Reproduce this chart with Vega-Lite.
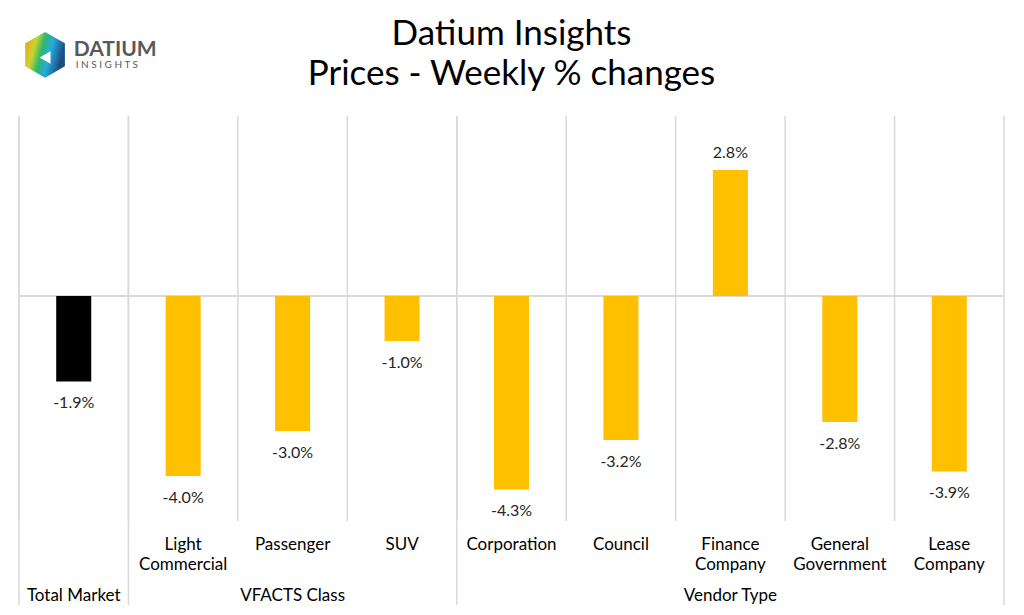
{
  "$schema": "https://vega.github.io/schema/vega-lite/v6.json",
  "autosize": {"type": "none"},
  "width": 985,
  "height": 489,
  "padding": {"left": 19, "top": 116, "right": 20, "bottom": 10},
  "background": "white",
  "title": {
    "text": ["Datium Insights", "Prices - Weekly % changes"],
    "anchor": "middle",
    "font": "Lato",
    "fontSize": 35,
    "fontWeight": "normal",
    "color": "#000000",
    "lineHeight": 40,
    "offset": 28,
    "dy": 88
  },
  "config": {"view": {"stroke": null}},
  "datasets": {
    "main": [
      {"category": "Total Market", "group": "Total Market", "value": -1.9},
      {"category": "Light Commercial", "group": "VFACTS Class", "value": -4.0},
      {"category": "Passenger", "group": "VFACTS Class", "value": -3.0},
      {"category": "SUV", "group": "VFACTS Class", "value": -1.0},
      {"category": "Corporation", "group": "Vendor Type", "value": -4.3},
      {"category": "Council", "group": "Vendor Type", "value": -3.2},
      {"category": "Finance Company", "group": "Vendor Type", "value": 2.8},
      {"category": "General Government", "group": "Vendor Type", "value": -2.8},
      {"category": "Lease Company", "group": "Vendor Type", "value": -3.9}
    ],
    "groups": [
      {"group": "Total Market", "first": "Total Market", "middle": "Total Market"},
      {"group": "VFACTS Class", "first": "Light Commercial", "middle": "Passenger"},
      {"group": "Vendor Type", "first": "Corporation", "middle": "Finance Company"}
    ]
  },
  "layer": [
    {
      "data": {"name": "main"},
      "mark": {"type": "rule", "color": "#D9D9D9", "strokeWidth": 1.5},
      "encoding": {
        "x": {"field": "category", "type": "nominal", "sort": null, "bandPosition": 0,
              "scale": {"paddingInner": 0, "paddingOuter": 0}, "axis": null},
        "y": {"datum": 4, "type": "quantitative", "scale": {"domain": [-6.867, 4], "nice": false, "zero": false}, "axis": null},
        "y2": {"datum": -5}
      }
    },
    {
      "data": {"name": "groups"},
      "mark": {"type": "rule", "color": "#D9D9D9", "strokeWidth": 1.5},
      "encoding": {
        "x": {"field": "first", "type": "nominal", "sort": null, "bandPosition": 0, "axis": null},
        "y": {"datum": 4, "type": "quantitative", "axis": null},
        "y2": {"datum": -6.867}
      }
    },
    {
      "data": {"values": [{"edge": "Lease Company"}]},
      "mark": {"type": "rule", "color": "#D9D9D9", "strokeWidth": 1.5},
      "encoding": {
        "x": {"field": "edge", "type": "nominal", "sort": null, "bandPosition": 1, "axis": null},
        "y": {"datum": 4, "type": "quantitative", "axis": null},
        "y2": {"datum": -6.867}
      }
    },
    {
      "data": {"name": "main"},
      "mark": {"type": "rule", "color": "#D9D9D9", "strokeWidth": 1.5},
      "encoding": {
        "y": {"datum": 0, "type": "quantitative", "axis": null}
      }
    },
    {
      "data": {"name": "main"},
      "mark": {"type": "bar", "width": {"band": 0.32}},
      "encoding": {
        "x": {"field": "category", "type": "nominal", "sort": null, "axis": null},
        "y": {"field": "value", "type": "quantitative", "axis": null},
        "color": {"field": "group", "type": "nominal", "legend": null,
                  "scale": {"domain": ["Total Market", "VFACTS Class", "Vendor Type"], "range": ["#000000", "#FFC000", "#FFC000"]}}
      }
    },
    {
      "data": {"name": "main"},
      "transform": [
        {"filter": "datum.value < 0"},
        {"calculate": "replace(format(datum.value, '.1f'), '\u2212', '-') + '%'", "as": "lbl"}
      ],
      "mark": {"type": "text", "font": "Lato", "fontSize": 16, "color": "#262626", "baseline": "top", "dy": 14},
      "encoding": {
        "x": {"field": "category", "type": "nominal", "sort": null, "axis": null},
        "y": {"field": "value", "type": "quantitative", "axis": null},
        "text": {"field": "lbl"}
      }
    },
    {
      "data": {"name": "main"},
      "transform": [
        {"filter": "datum.value >= 0"},
        {"calculate": "format(datum.value, '.1f') + '%'", "as": "lbl"}
      ],
      "mark": {"type": "text", "font": "Lato", "fontSize": 16, "color": "#262626", "baseline": "bottom", "dy": -9},
      "encoding": {
        "x": {"field": "category", "type": "nominal", "sort": null, "axis": null},
        "y": {"field": "value", "type": "quantitative", "axis": null},
        "text": {"field": "lbl"}
      }
    },
    {
      "data": {"name": "main"},
      "transform": [{"filter": "datum.category != 'Total Market'"}],
      "mark": {"type": "text", "font": "Lato", "fontSize": 17, "color": "#000000", "baseline": "top", "lineBreak": " ", "lineHeight": 20},
      "encoding": {
        "x": {"field": "category", "type": "nominal", "sort": null, "axis": null},
        "y": {"datum": -5.36, "type": "quantitative", "axis": null},
        "text": {"field": "category"}
      }
    },
    {
      "data": {"name": "groups"},
      "mark": {"type": "text", "font": "Lato", "fontSize": 17, "color": "#000000", "baseline": "top"},
      "encoding": {
        "x": {"field": "middle", "type": "nominal", "sort": null, "axis": null},
        "y": {"datum": -6.5, "type": "quantitative", "axis": null},
        "text": {"field": "group"}
      }
    },
    {
      "data": {"values": [{"logo": "Total Market"}]},
      "mark": {"type": "point", "filled": true, "opacity": 1, "strokeWidth": 0,
               "shape": "M0,-1L0.866,-0.5L0.866,0.5L0,1L-0.866,0.5L-0.866,-0.5Z", "size": 2100,
               "fill": {"gradient": "linear", "x1": 0, "y1": 0, "x2": 1, "y2": 0.3,
                        "stops": [{"offset": 0, "color": "#F7941D"}, {"offset": 0.3, "color": "#C8D52E"}, {"offset": 0.5, "color": "#2BB673"}, {"offset": 0.7, "color": "#27AAE1"}, {"offset": 1, "color": "#1C4E80"}]}},
      "encoding": {
        "x": {"field": "logo", "type": "nominal", "sort": null, "bandPosition": 0.238, "axis": null},
        "y": {"datum": 5.36, "type": "quantitative", "axis": null}
      }
    },
    {
      "data": {"values": [{"logo": "Total Market"}]},
      "mark": {"type": "point", "filled": true, "opacity": 1, "strokeWidth": 0, "shape": "triangle-left", "size": 160, "color": "#FFFFFF"},
      "encoding": {
        "x": {"field": "logo", "type": "nominal", "sort": null, "bandPosition": 0.238, "axis": null},
        "y": {"datum": 5.3, "type": "quantitative", "axis": null}
      }
    },
    {
      "data": {"values": [{"logo": "Total Market", "word": "DATIUM"}]},
      "mark": {"type": "text", "font": "Lato", "fontSize": 21, "fontWeight": "bold", "color": "#58595B", "align": "left", "baseline": "alphabetic"},
      "encoding": {
        "x": {"field": "logo", "type": "nominal", "sort": null, "bandPosition": 0.5, "axis": null},
        "y": {"datum": 5.33, "type": "quantitative", "axis": null},
        "text": {"field": "word"}
      }
    },
    {
      "data": {"values": [{"logo": "Total Market", "word": "I  N  S  I  G  H  T  S"}]},
      "mark": {"type": "text", "font": "Lato", "fontSize": 10, "color": "#58595B", "align": "left", "baseline": "alphabetic", "dx": 2},
      "encoding": {
        "x": {"field": "logo", "type": "nominal", "sort": null, "bandPosition": 0.5, "axis": null},
        "y": {"datum": 5.06, "type": "quantitative", "axis": null},
        "text": {"field": "word"}
      }
    }
  ]
}
